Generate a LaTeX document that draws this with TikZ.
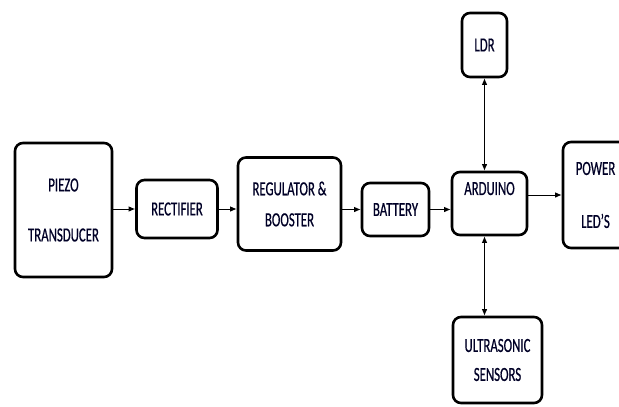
\documentclass[tikz,border=0pt]{standalone}
\usepackage{fontspec}
\setmainfont{Carlito}[FakeStretch=0.64, FakeBold=0.6]
\usepackage{tikz}
\usetikzlibrary{positioning, shapes, calc, arrows.meta}

\begin{document}
\begin{tikzpicture}[x=1pt, y=-1pt]
	\tikzstyle{blk}=[draw=black, line width=2.6pt, rounded corners=8pt, inner sep=0pt, align=center, text=black!85!blue, font=\fontsize{20}{24}\selectfont]
	\tikzstyle{link}=[line width=0.9pt, >={Latex[length=6.5pt, width=5.5pt]}]
	
	\clip (0,0) rectangle (619,407);
	
	\node (piezo) at (63.5,210) [blk, minimum width=97pt, minimum height=134pt] {PIEZO\\[26pt]TRANSDUCER};
	\node (rect) at (177,209) [blk, minimum width=81pt, minimum height=58pt] {RECTIFIER};
	\node (reg) at (289.5,204) [blk, minimum width=103pt, minimum height=93pt] {REGULATOR \&\\[7pt]BOOSTER};
	\node (bat) at (395.5,209.5) [blk, minimum width=67pt, minimum height=53pt] {BATTERY};
	\node (ard) at (489.5,203.5) [blk, minimum width=75pt, minimum height=63pt] {ARDUINO\\[6pt]};
	\node (ldr) at (484.5,45) [blk, minimum width=45pt, minimum height=64pt] {LDR};
	\node (pow) at (595.5,195) [blk, minimum width=65pt, minimum height=106pt] {POWER\\[29pt]LED'S};
	\node (ult) at (497.5,360) [blk, minimum width=89pt, minimum height=86pt] {ULTRASONIC\\[5pt]SENSORS};
	
	\draw [link, ->] (piezo.east |- rect) -- (rect.west);
	\draw [link, ->] (rect.east) -- (rect.east -| reg.west);
	\draw [link, ->] (reg.east |- bat) -- (bat.west);
	\draw [link, ->] (bat.east) -- (bat.east -| ard.west);
	\draw [link, ->] (ard.east |- pow) -- (pow.west);
	
	\draw [link, <->] (ldr.south) -- (ldr.south |- ard.north);
	\draw [link, <->] (ldr.south |- ard.south) -- (ldr.south |- ult.north);
\end{tikzpicture}
\end{document}
